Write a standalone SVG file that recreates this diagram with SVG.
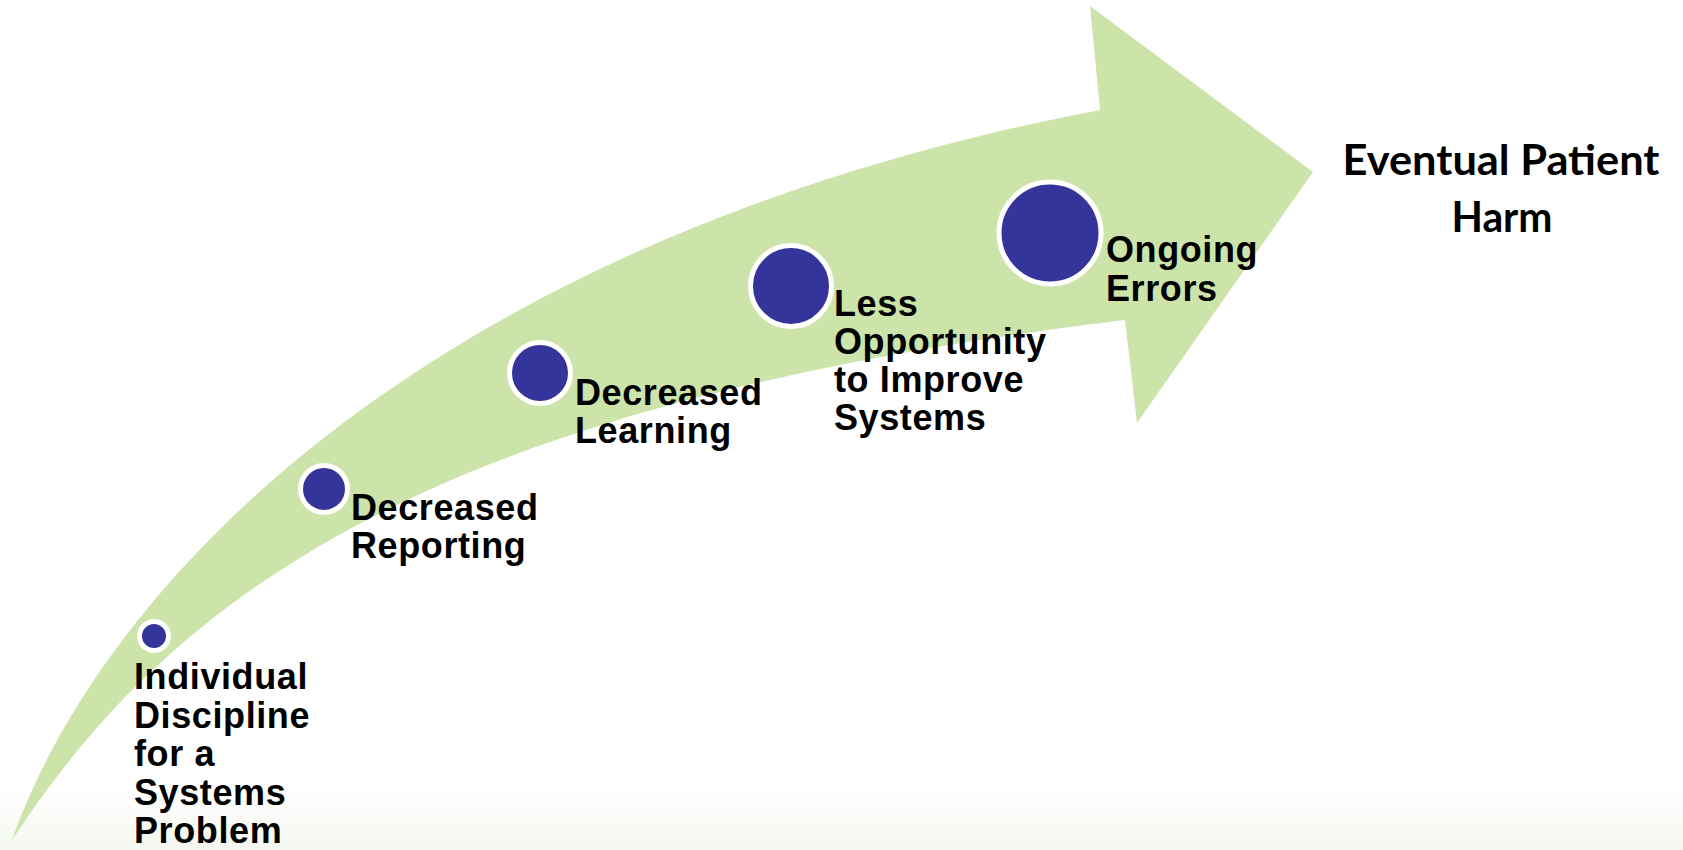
<svg xmlns="http://www.w3.org/2000/svg" width="1683" height="850" viewBox="0 0 1683 850">
  <defs>
    <linearGradient id="floor" x1="0" y1="0" x2="0" y2="1">
      <stop offset="0" stop-color="#ffffff"/>
      <stop offset="1" stop-color="#f4f7ef"/>
    </linearGradient>
    <style>
      .step { fill: #35349a; stroke: #ffffff; stroke-width: 5; }
      .label { font-family: "Liberation Sans", Arial, sans-serif; font-weight: bold; font-size: 36px; letter-spacing: 0.6px; fill: #000000; }
      .goal { font-family: Lato, "Open Sans", sans-serif; font-weight: bold; font-size: 42px; fill: #000000; text-anchor: middle; }
    </style>
  </defs>

  <rect x="0" y="0" width="1683" height="850" fill="#ffffff"/>
  <rect x="0" y="790" width="1683" height="60" fill="url(#floor)"/>

  <!-- curved rising arrow -->
  <g id="connectors">
    <path id="rising-arrow" fill="#cce4a9"
      d="M 12,840
         C 100,590 420,240 1100,110
         L 1090,6
         L 1313,172
         L 1137,423
         L 1125,320
         C 420,405 170,600 12,840 Z"/>
  </g>

  <g id="node-individual">
    <circle class="step" cx="154" cy="636" r="14.5"/>
    <text class="label">
      <tspan x="134" y="689">Individual</tspan>
      <tspan x="134" y="727.5">Discipline</tspan>
      <tspan x="134" y="766">for a</tspan>
      <tspan x="134" y="804.5">Systems</tspan>
      <tspan x="134" y="843">Problem</tspan>
    </text>
  </g>

  <g id="node-reporting">
    <circle class="step" cx="324" cy="489" r="23.5"/>
    <text class="label">
      <tspan x="351" y="520">Decreased</tspan>
      <tspan x="351" y="558">Reporting</tspan>
    </text>
  </g>

  <g id="node-learning">
    <circle class="step" cx="540" cy="373" r="30.5"/>
    <text class="label">
      <tspan x="575" y="405">Decreased</tspan>
      <tspan x="575" y="443">Learning</tspan>
    </text>
  </g>

  <g id="node-opportunity">
    <circle class="step" cx="791" cy="286" r="40.5"/>
    <text class="label">
      <tspan x="834" y="316">Less</tspan>
      <tspan x="834" y="354">Opportunity</tspan>
      <tspan x="834" y="392">to Improve</tspan>
      <tspan x="834" y="430">Systems</tspan>
    </text>
  </g>

  <g id="node-errors">
    <circle class="step" cx="1050" cy="233" r="51"/>
    <text class="label">
      <tspan x="1106" y="262">Ongoing</tspan>
      <tspan x="1106" y="301">Errors</tspan>
    </text>
  </g>

  <g id="node-harm">
    <text class="goal" x="1501" y="175" textLength="317" lengthAdjust="spacingAndGlyphs">Eventual Patient</text>
    <text class="goal" x="1502" y="232" textLength="101" lengthAdjust="spacingAndGlyphs">Harm</text>
  </g>
</svg>
